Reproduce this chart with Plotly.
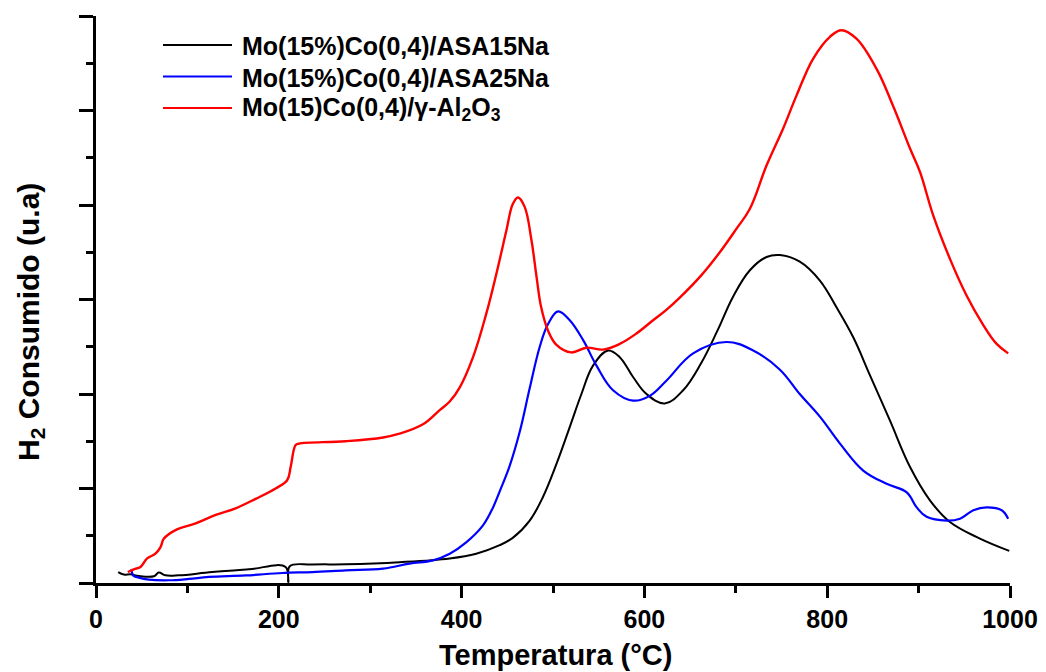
import plotly.graph_objects as go

# ---- data ----
black_name = "Mo(15%)Co(0,4)/ASA15Na"
black_x = [24.3, 30.4, 37.8, 46.9, 63.3, 68.8, 76, 90.6, 127, 167.3, 207.4, 210.4, 212, 236.7, 273, 332,
           387, 416, 441.7, 456.3, 474.5, 489, 503.8, 518.3, 531.1, 543.8, 560.3, 573, 587.6, 602.3, 622.3,
           642.4, 661.7, 679.9, 697, 715.4, 733.7, 748.2, 770, 792, 810, 828.5, 846.7, 868.6, 890.5, 912.4,
           934.3, 967.1, 999.2]
black_y = [0.116, 0.089, 0.092, 0.074, 0.071, 0.11, 0.081, 0.081, 0.116, 0.145, 0.17, 0.01, 0.177, 0.195,
           0.198, 0.22, 0.26, 0.31, 0.40, 0.48, 0.66, 0.91, 1.26, 1.65, 2.00, 2.30, 2.46, 2.39, 2.18, 2.00,
           1.90, 2.04, 2.32, 2.67, 3.03, 3.31, 3.45, 3.47, 3.40, 3.20, 2.92, 2.60, 2.20, 1.72, 1.23, 0.875,
           0.645, 0.47, 0.34]

blue_name = "Mo(15%)Co(0,4)/ASA25Na"
blue_x = [38.9, 40.7, 46.9, 57.8, 79.7, 101.6, 123.5, 163.7, 203.8, 236.7, 273, 314, 343, 368.7, 387, 405,
          423.4, 434.4, 441.7, 452.6, 463.6, 474.5, 485.5, 494.6, 505.5, 518.3, 533, 547.6, 565.7, 587.6,
          605.9, 624, 653.3, 689.9, 719, 748, 770, 792, 814, 839.4, 865, 887, 897.9, 908.8, 930.7, 945.3,
          959.9, 974.5, 990.9, 998]
blue_y = [0.15, 0.08, 0.057, 0.036, 0.029, 0.043, 0.064, 0.08, 0.106, 0.116, 0.134, 0.152, 0.205, 0.24,
          0.31, 0.43, 0.61, 0.80, 0.97, 1.24, 1.60, 2.06, 2.50, 2.74, 2.875, 2.78, 2.57, 2.30, 2.04, 1.93,
          1.98, 2.14, 2.43, 2.55, 2.46, 2.26, 2.00, 1.76, 1.475, 1.19, 1.05, 0.96, 0.80, 0.70, 0.66, 0.68,
          0.77, 0.80, 0.77, 0.68]

red_name = "Mo(15)Co(0,4)/γ-Al<sub>2</sub>O<sub>3</sub>"
red_x = [34.8, 41.4, 48.7, 56, 65, 70.6, 74.3, 87, 109, 131, 152.7, 174.6, 196.5, 209.3, 213, 218.4, 222,
         273, 314, 332, 357.7, 376, 387, 398, 412.5, 427, 438, 449, 456, 461.7, 469, 476.4, 482, 487, 494.6,
         503.8, 520, 536.6, 554.8, 573, 591.3, 609.5, 624, 638.7, 661.7, 682.5, 700.8, 715.4, 733.7, 751.8,
         766.5, 784.7, 803, 815.7, 832, 854, 872, 890.5, 901.5, 916, 934.3, 952.6, 970.8, 985.4, 998]
red_y = [0.116, 0.145, 0.17, 0.26, 0.31, 0.38, 0.47, 0.56, 0.63, 0.72, 0.79, 0.89, 1.00, 1.09, 1.23, 1.46,
         1.475, 1.50, 1.54, 1.58, 1.68, 1.83, 1.92, 2.07, 2.39, 2.85, 3.27, 3.73, 4.01, 4.08, 3.98, 3.63,
         3.24, 2.92, 2.67, 2.52, 2.44, 2.49, 2.47, 2.53, 2.64, 2.78, 2.89, 3.02, 3.25, 3.50, 3.75, 3.96,
         4.42, 4.81, 5.16, 5.55, 5.78, 5.85, 5.76, 5.44, 5.05, 4.60, 4.35, 3.89, 3.43, 3.04, 2.73, 2.53, 2.43]

x_ticks = [0, 200, 400, 600, 800, 1000]
x_title = "Temperatura (°C)"
y_title = "H<sub>2</sub> Consumido (u.a)"

FONT = "Liberation Sans, Arial, sans-serif"

series = [
    (black_name, black_x, black_y, "black", 2),
    (blue_name, blue_x, blue_y, "#0000ff", 2.2),
    (red_name, red_x, red_y, "#ff0000", 2.4),
]

fig = go.Figure()
for name, xs, ys, col, w in series:
    fig.add_trace(go.Scatter(x=xs, y=ys, mode="lines", name=name,
                             line=dict(color=col, width=w, shape="spline", smoothing=1.1),
                             showlegend=False))

# the page places the figure 8px from the top-left corner
OFF = 8
W, H = 1046 - OFF, 672 - OFF
# plot area in page pixels
PL, PR, PT, PB = 96, 1010, 16, 583
L, R, T, B = PL - OFF, (W + OFF) - PR, PT - OFF, (H + OFF) - PB
pw, ph = PR - PL, PB - PT

def px_x(p):
    return (p - PL) / pw

def px_y(p):
    return (PB - p) / ph

# manual legend (long sample lines, as in the reference)
legend_rows = [45, 76.5, 108]
shapes = []
annotations = []
for (name, xs, ys, col, w), ry in zip(series, legend_rows):
    shapes.append(dict(type="line", xref="paper", yref="paper",
                       x0=px_x(163), x1=px_x(232), y0=px_y(ry), y1=px_y(ry),
                       line=dict(color=col, width=2.2)))
    annotations.append(dict(xref="paper", yref="paper", x=px_x(240), y=px_y(ry + 1),
                            xanchor="left", yanchor="middle", showarrow=False,
                            text=name, font=dict(family=FONT, size=25, color="black", weight="bold")))

annotations.append(dict(xref="paper", yref="paper", x=px_x(555), y=px_y(655),
                        xanchor="center", yanchor="middle", showarrow=False, text=x_title,
                        font=dict(family=FONT, size=29, color="black", weight="bold")))
annotations.append(dict(xref="paper", yref="paper", x=px_x(30), y=px_y(322),
                        xanchor="center", yanchor="middle", showarrow=False, text=y_title,
                        textangle=-90,
                        font=dict(family=FONT, size=30, color="black", weight="bold")))

fig.update_layout(
    width=W, height=H,
    margin=dict(l=L, r=R, t=T, b=B),
    plot_bgcolor="white", paper_bgcolor="white",
    showlegend=False,
    shapes=shapes, annotations=annotations,
    xaxis=dict(range=[0, 1000], tickvals=x_ticks, ticktext=[str(v) for v in x_ticks],
               showline=True, linecolor="black", linewidth=3,
               ticks="outside", ticklen=12, tickwidth=3, tickcolor="black",
               tickfont=dict(family=FONT, size=25, color="black", weight="bold"),
               showgrid=False, zeroline=False,
               minor=dict(dtick=100, tick0=0, ticks="outside", ticklen=7, tickwidth=3,
                          tickcolor="black", showgrid=False)),
    yaxis=dict(range=[0, 6], dtick=1, tick0=0,
               showline=True, linecolor="black", linewidth=3,
               ticks="outside", ticklen=14, tickwidth=3, tickcolor="black",
               showticklabels=False, showgrid=False, zeroline=False,
               minor=dict(dtick=0.5, tick0=0, ticks="outside", ticklen=7, tickwidth=3,
                          tickcolor="black", showgrid=False)),
)

fig.write_html("out.html")
